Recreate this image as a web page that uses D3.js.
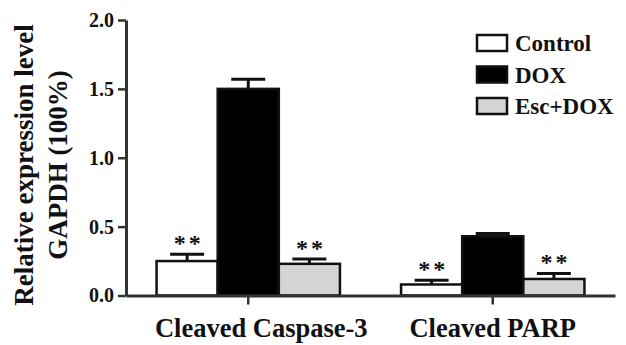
<!DOCTYPE html>
<html>
<head>
<meta charset="utf-8">
<script src="https://cdn.jsdelivr.net/npm/d3@7/dist/d3.min.js"></script>
<style>
  html, body { margin: 0; padding: 0; background: #fff; }
  svg { display: block; }
  text { font-family: "Liberation Serif", "Times New Roman", serif; font-weight: bold; fill: #111; }
</style>
</head>
<body>
<svg id="chart" width="626" height="345"></svg>
<script>
// Protein groups on the x axis
const categories = ["Cleaved Caspase-3", "Cleaved PARP"];
// Treatment series
const seriesNames = ["Control", "DOX", "Esc+DOX"];
const seriesFills = ["#ffffff", "#000000", "#d4d4d4"];
// Mean relative expression per category
const controlValues = [0.25, 0.08];
const doxValues = [1.50, 0.43];
const escDoxValues = [0.23, 0.12];
// Upper error (SEM) per category
const controlErrors = [0.05, 0.03];
const doxErrors = [0.07, 0.02];
const escDoxErrors = [0.035, 0.04];
// Significance marks vs DOX
const controlMarks = ["**", "**"];
const doxMarks = ["", ""];
const escDoxMarks = ["**", "**"];
// Y axis ticks
const yTicks = [0, 0.5, 1.0, 1.5, 2.0];
const yLabelLines = ["Relative expression level", "GAPDH (100%)"];

const seriesValues = [controlValues, doxValues, escDoxValues];
const seriesErrors = [controlErrors, doxErrors, escDoxErrors];
const seriesMarks = [controlMarks, doxMarks, escDoxMarks];

const svg = d3.select("#chart");
const plotLeft = 126, plotRight = 615, plotTop = 20, plotBottom = 295.5;

const x0 = d3.scaleBand().domain(categories).range([plotLeft, plotRight])
  .paddingInner(0.25).paddingOuter(0.125);
const x1 = d3.scaleBand().domain(seriesNames).range([0, x0.bandwidth()]);
const y = d3.scaleLinear().domain([0, 2]).range([plotBottom, plotTop]);

// One record per bar
const bars = [];
categories.forEach((c, ci) => {
  seriesNames.forEach((s, si) => {
    bars.push({
      cat: c, series: s, si,
      value: seriesValues[si][ci],
      err: seriesErrors[si][ci],
      mark: seriesMarks[si][ci]
    });
  });
});

// Bars
svg.append("g").selectAll("rect").data(bars).join("rect")
  .attr("x", d => x0(d.cat) + x1(d.series))
  .attr("y", d => y(d.value))
  .attr("width", x1.bandwidth())
  .attr("height", d => y(0) - y(d.value))
  .attr("fill", d => seriesFills[d.si])
  .attr("stroke", "#111")
  .attr("stroke-width", 2.5);

// Error bars (upper only)
const capW = 34;
const eb = svg.append("g").attr("stroke", "#111").attr("stroke-width", 3);
bars.forEach(d => {
  const cx = x0(d.cat) + x1(d.series) + x1.bandwidth() / 2;
  eb.append("line").attr("x1", cx).attr("x2", cx)
    .attr("y1", y(d.value)).attr("y2", y(d.value + d.err));
  eb.append("line").attr("x1", cx - capW / 2).attr("x2", cx + capW / 2)
    .attr("y1", y(d.value + d.err)).attr("y2", y(d.value + d.err));
});

// Significance asterisks
svg.append("g").selectAll("text").data(bars.filter(d => d.mark)).join("text")
  .attr("x", d => x0(d.cat) + x1(d.series) + x1.bandwidth() / 2 + 1.5)
  .attr("y", d => y(d.value + d.err) - 3)
  .attr("text-anchor", "middle")
  .attr("font-size", 24)
  .attr("letter-spacing", "3px")
  .attr("fill", "#333")
  .text(d => d.mark);

// Y axis
const yAxis = svg.append("g").attr("transform", `translate(${plotLeft},0)`)
  .call(d3.axisLeft(y).tickValues(yTicks).tickFormat(d3.format(".1f"))
    .tickSize(8).tickSizeOuter(0).tickPadding(4));
yAxis.select(".domain").attr("stroke", "#333").attr("stroke-width", 3);
yAxis.selectAll(".tick line").attr("stroke", "#333").attr("stroke-width", 2.5);
yAxis.selectAll(".tick text").attr("font-size", 20)
  .attr("font-family", "'Liberation Serif', 'Times New Roman', serif")
  .attr("font-weight", "bold").attr("fill", "#222");

// X axis
const xAxis = svg.append("g").attr("transform", `translate(0,${plotBottom})`)
  .call(d3.axisBottom(x0).tickSize(9).tickSizeOuter(0).tickFormat(""));
xAxis.select(".domain").attr("stroke", "#333").attr("stroke-width", 3);
xAxis.selectAll(".tick line").attr("stroke", "#333").attr("stroke-width", 2.5);

// Category labels
svg.append("g").selectAll("text").data(categories).join("text")
  .attr("x", (d, i) => x0(d) + x0.bandwidth() / 2 + (i === 0 ? 13 : 0))
  .attr("y", 337)
  .attr("text-anchor", "middle")
  .attr("font-size", 26.5)
  .text(d => d);

// Y axis title (two lines)
const yl = svg.append("g").attr("transform", "translate(0,165) rotate(-90)");
yl.selectAll("text").data(yLabelLines).join("text")
  .attr("x", 0)
  .attr("y", (d, i) => 33 + i * 34)
  .attr("text-anchor", "middle")
  .attr("font-size", 27)
  .text(d => d);

// Legend
const lg = svg.append("g");
seriesNames.forEach((s, i) => {
  const cy = 43 + i * 31.5;
  lg.append("rect").attr("x", 477).attr("y", cy - 8).attr("width", 30).attr("height", 16)
    .attr("fill", seriesFills[i]).attr("stroke", "#111").attr("stroke-width", 2.5);
  lg.append("text").attr("x", 515).attr("y", cy + 8).attr("font-size", 23).text(s);
});
</script>
</body>
</html>
